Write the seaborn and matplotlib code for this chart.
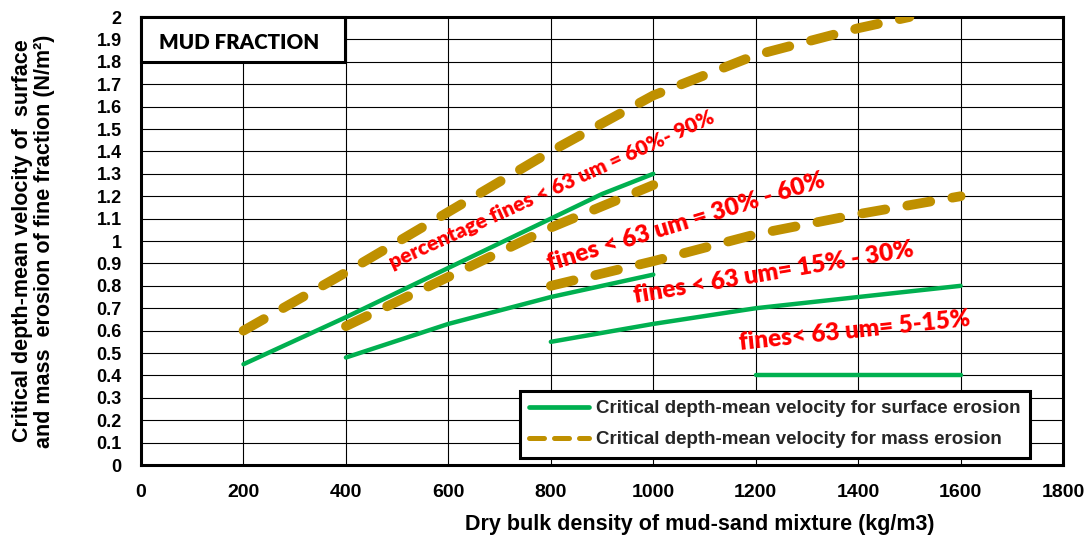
import numpy as np
import pandas as pd
import matplotlib
matplotlib.use("Agg")
import matplotlib.pyplot as plt
from matplotlib.lines import Line2D
from matplotlib.patches import Rectangle
import seaborn as sns

# ---------------- data ----------------
surf_60_90_x = [200, 400, 600, 800, 900, 1000]
surf_60_90_y = [0.45, 0.66, 0.88, 1.10, 1.21, 1.30]
surf_30_60_x = [400, 600, 800, 1000]
surf_30_60_y = [0.48, 0.63, 0.75, 0.85]
surf_15_30_x = [800, 1000, 1200, 1400, 1600]
surf_15_30_y = [0.55, 0.63, 0.70, 0.75, 0.80]
surf_5_15_x = [1200, 1600]
surf_5_15_y = [0.40, 0.40]

mass_60_90_x = [200, 400, 600, 800, 1000, 1200, 1400, 1500]
mass_60_90_y = [0.60, 0.86, 1.13, 1.40, 1.65, 1.83, 1.95, 2.00]
mass_30_60_x = [400, 600, 800, 1000]
mass_30_60_y = [0.62, 0.84, 1.06, 1.25]
mass_15_30_x = [800, 1000, 1200, 1400, 1600]
mass_15_30_y = [0.80, 0.91, 1.03, 1.12, 1.20]

annot_texts = ["percentage fines < 63 um = 60%- 90%",
               "fines < 63 um = 30% - 60%",
               "fines < 63 um= 15% - 30%",
               "fines< 63 um= 5-15%"]
annot_x = [801, 1065, 1236, 1393]
annot_y = [1.228, 1.085, 0.857, 0.60]
annot_rot = [24.5, 17, 9.5, 6]
annot_size = [15, 17.5, 17.5, 17.5]

y_ticks = [round(v * 0.1, 1) for v in range(0, 21)]
y_ticklabels = ["%g" % v for v in y_ticks]
x_ticks = list(range(0, 1801, 200))

legend_labels = ["Critical depth-mean velocity for surface erosion",
                 "Critical depth-mean velocity for mass erosion"]

GREEN = "#00B050"
GOLD = "#BF9000"

# ---------------- style ----------------
sns.set_theme(style="white")
plt.rcParams["font.family"] = ["Liberation Sans", "DejaVu Sans"]
plt.rcParams["font.weight"] = "bold"

fig = plt.figure(figsize=(10.9, 5.42), dpi=100)
ax = fig.add_axes([0.1294, 0.142, 0.8459, 0.8266])

surf = [(surf_60_90_x, surf_60_90_y), (surf_30_60_x, surf_30_60_y),
        (surf_15_30_x, surf_15_30_y), (surf_5_15_x, surf_5_15_y)]
mass = [(mass_60_90_x, mass_60_90_y), (mass_30_60_x, mass_30_60_y),
        (mass_15_30_x, mass_15_30_y)]

for xs, ys in surf:
    df = pd.DataFrame({"x": xs, "y": ys})
    sns.lineplot(data=df, x="x", y="y", ax=ax, color=GREEN, linewidth=3.2,
                 sort=False, estimator=None, solid_capstyle="round", zorder=4)
for xs, ys in mass:
    df = pd.DataFrame({"x": xs, "y": ys})
    sns.lineplot(data=df, x="x", y="y", ax=ax, color=GOLD, linewidth=7,
                 sort=False, estimator=None, linestyle=(0, (2.4, 2.3)),
                 dash_capstyle="round", zorder=4)

ax.set_xlim(0, 1800)
ax.set_ylim(0, 2)
ax.set_xticks(x_ticks)
ax.set_xticklabels([str(v) for v in x_ticks], fontsize=14, fontweight="bold")
ax.set_yticks(y_ticks)
ax.set_yticklabels(y_ticklabels, fontsize=13, fontweight="bold")
ax.tick_params(axis="x", length=0, pad=14, colors="black")
ax.tick_params(axis="y", length=0, pad=14, colors="black")
ax.grid(True, color="black", linewidth=0.8)
ax.set_axisbelow(True)
for s in ax.spines.values():
    s.set_visible(True)
    s.set_color("black")
    s.set_linewidth(2.2)

ax.set_xlabel("Dry bulk density of mud-sand mixture (kg/m3)", fontsize=15.5,
              fontweight="bold", color="black")
ax.xaxis.set_label_coords(0.606, -0.11)
ax.set_ylabel("Critical depth-mean velocity of  surface\nand mass  erosion of fine fraction (N/m\u00b2)",
              fontsize=15.5, fontweight="bold", color="black", linespacing=1.05)
ax.yaxis.set_label_coords(-0.093, 0.5)

# annotations
for t, x, y, r, fs in zip(annot_texts, annot_x, annot_y, annot_rot, annot_size):
    ax.text(x, y, t, rotation=r, rotation_mode="anchor", ha="center", va="center",
            color="#FF0000", fontsize=fs, fontweight="heavy",
            family=["Lato", "DejaVu Sans"], zorder=5)

# MUD FRACTION box
ax.add_patch(Rectangle((0, 0.9), 0.221, 0.1, transform=ax.transAxes,
                       facecolor="white", edgecolor="black", linewidth=2.2,
                       zorder=6, clip_on=False))
ax.text(0.019, 0.947, "MUD FRACTION", transform=ax.transAxes, ha="left",
        va="center_baseline", fontsize=14.8, fontweight="heavy",
        family=["Lato", "DejaVu Sans"], color="black", zorder=7)

handles = [Line2D([], [], color=GREEN, linewidth=3.4, solid_capstyle="round"),
           Line2D([], [], color=GOLD, linewidth=3.6, linestyle=(0, (3.0, 2.0)),
                  dash_capstyle="round")]
leg = ax.legend(handles, legend_labels, loc="lower right",
                bbox_to_anchor=(0.964, 0.016), frameon=True,
                fancybox=False, framealpha=1, edgecolor="black",
                handlelength=3.2, handletextpad=0.35, borderpad=0.5,
                labelspacing=0.75, borderaxespad=0,
                prop={"weight": "bold", "size": 13.5})
leg.get_frame().set_linewidth(2.2)
leg.set_zorder(8)

fig.savefig("out.png", dpi=100)
